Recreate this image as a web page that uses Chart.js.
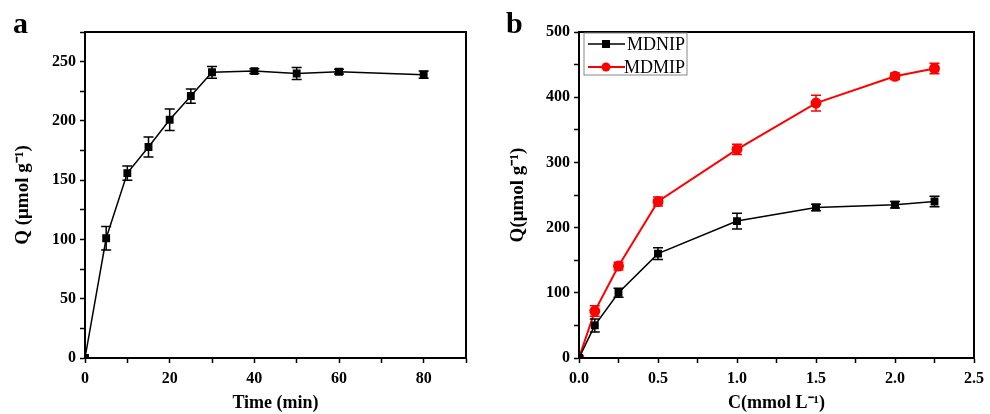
<!DOCTYPE html>
<html>
<head>
<meta charset="utf-8">
<script src="https://cdn.jsdelivr.net/npm/chart.js@4"></script>
<style>
  body { margin: 0; background: #fff; }
  #wrap { position: relative; width: 990px; height: 414px; }
  #wrap canvas { position: absolute; left: 0; top: 0; }
  .tag { position: absolute; font: bold 30px "Liberation Serif", serif; line-height: 1; }
</style>
</head>
<body>
<div id="wrap">
  <canvas id="chartA" width="990" height="414"></canvas>
  <canvas id="chartB" width="990" height="414"></canvas>
  <div class="tag" style="left:13px; top:8px;">a</div>
  <div class="tag" style="left:506px; top:8px;">b</div>
</div>
<script>
// panel a: adsorption kinetics
const timeMin = [0, 5, 10, 15, 20, 25, 30, 40, 50, 60, 80];
const qTime = [0, 101, 156, 178, 201, 221, 241, 242, 240, 241.5, 239];
const qTimeErr = [0, 10, 6, 8.5, 9, 6, 5, 2, 5, 2, 3];

// panel b: adsorption isotherms
const conc = [0, 0.1, 0.25, 0.5, 1.0, 1.5, 2.0, 2.25];
const qNip = [0, 50, 100, 160, 210, 231, 235, 240];
const qNipErr = [0, 10, 7, 9, 12, 5, 5, 8];
const qMip = [0, 72, 141, 240, 320, 391, 432, 444];
const qMipErr = [0, 8, 6, 7, 8, 12, 5, 8];

const serif = '"Liberation Serif", "Times New Roman", serif';

const toPts = (xs, ys) => xs.map((x, i) => ({ x: x, y: ys[i] }));

// error bars + full frame around the plot area
const frameAndErrors = {
  id: 'frameAndErrors',
  afterDatasetsDraw(chart) {
    const ctx = chart.ctx;
    const xs = chart.scales.x, ys = chart.scales.y;
    ctx.save();
    chart.data.datasets.forEach(ds => {
      if (!ds.errors) return;
      ctx.strokeStyle = ds.borderColor;
      ctx.lineWidth = 1.5;
      ds.data.forEach((p, i) => {
        const e = ds.errors[i];
        if (!e) return;
        const px = xs.getPixelForValue(p.x);
        const top = ys.getPixelForValue(p.y + e);
        const bot = ys.getPixelForValue(p.y - e);
        ctx.beginPath();
        ctx.moveTo(px, top); ctx.lineTo(px, bot);
        ctx.moveTo(px - 5, top); ctx.lineTo(px + 5, top);
        ctx.moveTo(px - 5, bot); ctx.lineTo(px + 5, bot);
        ctx.stroke();
      });
    });
    const a = chart.chartArea;
    ctx.strokeStyle = '#000';
    ctx.lineWidth = 2;
    ctx.strokeRect(a.left, a.top, a.right - a.left, a.bottom - a.top);
    ctx.restore();
  }
};

// legend box drawn inside the plot area (panel b)
const boxLegend = {
  id: 'boxLegend',
  afterDraw(chart, args, opts) {
    if (!opts.show) return;
    const ctx = chart.ctx;
    const a = chart.chartArea;
    const x0 = a.left + 5, y0 = a.top + 1;
    ctx.save();
    ctx.strokeStyle = '#888';
    ctx.lineWidth = 1;
    ctx.strokeRect(x0, y0, 103, 42);
    ctx.font = '18px ' + serif;
    ctx.textBaseline = 'middle';
    chart.data.datasets.forEach((ds, i) => {
      const cy = y0 + 11 + i * 23;
      ctx.strokeStyle = ds.borderColor;
      ctx.fillStyle = ds.borderColor;
      ctx.lineWidth = ds.borderWidth;
      ctx.beginPath();
      ctx.moveTo(x0 + 4, cy); ctx.lineTo(x0 + 41, cy);
      ctx.stroke();
      ctx.beginPath();
      if (ds.pointStyle === 'rect') {
        ctx.fillRect(x0 + 22 - 4, cy - 4, 8, 8);
      } else {
        ctx.arc(x0 + 22, cy, 4.5, 0, Math.PI * 2);
        ctx.fill();
      }
      ctx.fillStyle = '#000';
      ctx.fillText(ds.label, x0 + 40 + (i === 0 ? 3 : 0), cy + 1);
    });
    ctx.restore();
  }
};

function axes(opts) {
  return {
    x: {
      type: 'linear',
      min: 0, max: opts.xMax,
      afterFit: s => { s.height = 56; },
      afterBuildTicks: s => { s.ticks = opts.xTicks.map(v => ({ value: v })); },
      grid: { drawOnChartArea: false, drawTicks: true, tickLength: 5, tickColor: '#000', tickWidth: 1.5 },
      border: { color: '#000', width: 2 },
      ticks: {
        color: '#000', padding: 6, maxRotation: 0, autoSkip: false,
        font: { family: serif, size: 16, weight: 'bold' },
        callback: opts.xLabel
      },
      title: {
        display: true, text: opts.xTitle, color: '#000',
        padding: { top: 0, bottom: 0 },
        font: { family: serif, size: 18, weight: 'bold' }
      }
    },
    y: {
      type: 'linear',
      min: 0, max: opts.yMax,
      afterFit: s => { s.width = opts.yWidth; },
      afterBuildTicks: s => { s.ticks = opts.yTicks.map(v => ({ value: v })); },
      grid: { drawOnChartArea: false, drawTicks: true, tickLength: 5, tickColor: '#000', tickWidth: 1.5 },
      border: { color: '#000', width: 2 },
      ticks: {
        color: '#000', padding: 4, autoSkip: false,
        font: { family: serif, size: 16, weight: 'bold' },
        callback: opts.yLabel
      },
      title: {
        display: true, text: opts.yTitle, color: '#000',
        padding: { top: 12, bottom: 0 },
        font: { family: serif, size: 19, weight: 'bold' }
      }
    }
  };
}

const tA = [0, 10, 20, 30, 40, 50, 60, 70, 80, 90];
const yA = [0, 25, 50, 75, 100, 125, 150, 175, 200, 225, 250, 275];

new Chart(document.getElementById('chartA'), {
  type: 'scatter',
  data: {
    datasets: [{
      label: 'Q',
      data: toPts(timeMin, qTime),
      errors: qTimeErr,
      showLine: true,
      borderColor: '#000', backgroundColor: '#000',
      borderWidth: 1.5, pointStyle: 'rect', pointRadius: 4.5
    }]
  },
  options: {
    responsive: false, animation: false,
    layout: { padding: { left: 0, right: 990 - 466, top: 32, bottom: 0 } },
    plugins: { legend: { display: false }, tooltip: { enabled: false }, boxLegend: { show: false } },
    scales: axes({
      xMax: 90, xTicks: tA, xLabel: v => (v % 20 === 0 && v < 90 ? v : ''),
      yMax: 275, yTicks: yA, yLabel: v => (v % 50 === 0 ? v : ''),
      yWidth: 85,
      xTitle: 'Time (min)', yTitle: 'Q (μmol g⁻¹)'
    })
  },
  plugins: [frameAndErrors, boxLegend]
});

const cB = [0, 0.25, 0.5, 0.75, 1.0, 1.25, 1.5, 1.75, 2.0, 2.25, 2.5];
const yB = [0, 50, 100, 150, 200, 250, 300, 350, 400, 450, 500];

new Chart(document.getElementById('chartB'), {
  type: 'scatter',
  data: {
    datasets: [{
      label: 'MDNIP',
      data: toPts(conc, qNip),
      errors: qNipErr,
      showLine: true,
      borderColor: '#000', backgroundColor: '#000',
      borderWidth: 1.5, pointStyle: 'rect', pointRadius: 4.5
    }, {
      label: 'MDMIP',
      data: toPts(conc, qMip),
      errors: qMipErr,
      showLine: true,
      borderColor: '#ff0000', backgroundColor: '#ff0000',
      borderWidth: 2, pointStyle: 'circle', pointRadius: 4.5
    }]
  },
  options: {
    responsive: false, animation: false,
    layout: { padding: { left: 495, right: 990 - 978, top: 32, bottom: 0 } },
    plugins: { legend: { display: false }, tooltip: { enabled: false }, boxLegend: { show: true } },
    scales: axes({
      xMax: 2.5, xTicks: cB, xLabel: v => (Math.abs(v * 2 - Math.round(v * 2)) < 1e-9 ? v.toFixed(1) : ''),
      yMax: 500, yTicks: yB, yLabel: v => (v % 100 === 0 ? v : ''),
      yWidth: 84,
      xTitle: 'C(mmol L⁻¹)', yTitle: 'Q(μmol g⁻¹)'
    })
  },
  plugins: [frameAndErrors, boxLegend]
});
</script>
</body>
</html>
